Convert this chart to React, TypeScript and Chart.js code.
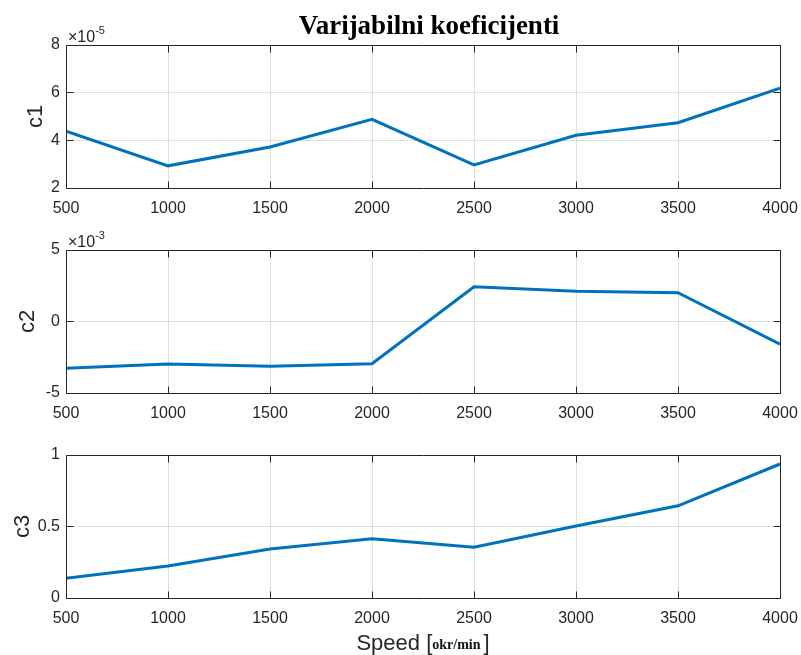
import React, { useEffect, useRef } from "react";
import { Chart, registerables } from "chart.js";

Chart.register(...registerables);

// ---- data ----
const speeds = [500, 1000, 1500, 2000, 2500, 3000, 3500, 4000];
const c1Values = [4.38, 2.93, 3.72, 4.88, 2.97, 4.21, 4.74, 6.19]; // × 10^-5
const c2Values = [-3.27, -2.97, -3.13, -2.95, 2.43, 2.11, 2.01, -1.59]; // × 10^-3
const c3Values = [0.138, 0.224, 0.343, 0.415, 0.355, 0.503, 0.645, 0.937];
const yLabels = ["c1", "c2", "c3"];
const exponents = [-5, -3, null];
const titleText = "Varijabilni koeficijenti";
const xLabelMain = "Speed [";
const xLabelUnit = "okr/min";
const xLabelClose = "]";

// ---- styles ----
const AXIS = "#262626";
const GRID = "rgba(38,38,38,0.15)";
const LINE = "#0072BD";
const SANS = '"Liberation Sans", Arial, Helvetica, sans-serif';
const SERIF = '"Liberation Serif", "Times New Roman", serif';

type Panel = {
  key: string;
  values: number[];
  label: string;
  exponent: number | null;
  yMin: number;
  yMax: number;
  yStep: number;
  top: number;
  height: number;
  padTop: number;
  xAxisHeight: number;
  yTitlePad: number;
  showTitle: boolean;
  showXLabel: boolean;
};

const panels: Panel[] = [
  { key: "c1", values: c1Values, label: yLabels[0], exponent: exponents[0], yMin: 2, yMax: 8, yStep: 2, top: 0, height: 215, padTop: 45, xAxisHeight: 27, yTitlePad: 23, showTitle: true, showXLabel: false },
  { key: "c2", values: c2Values, label: yLabels[1], exponent: exponents[1], yMin: -5, yMax: 5, yStep: 5, top: 215, height: 210, padTop: 35, xAxisHeight: 32, yTitlePad: 15, showTitle: false, showXLabel: false },
  { key: "c3", values: c3Values, label: yLabels[2], exponent: exponents[2], yMin: 0, yMax: 1, yStep: 0.5, top: 425, height: 230, padTop: 30, xAxisHeight: 57, yTitlePad: 10, showTitle: false, showXLabel: true },
];

const align = (p: number) => Math.round(p - 0.5) + 0.5;

function makePlugin(p: Panel) {
  return {
    id: "matlab-" + p.key,
    afterDatasetsDraw(chart: any) {
      const { ctx, chartArea: a, scales } = chart;
      const L = align(a.left), R = align(a.right), T = align(a.top), B = align(a.bottom);
      const TL = 7;
      ctx.save();
      ctx.strokeStyle = AXIS;
      ctx.lineWidth = 1;
      ctx.beginPath();
      ctx.rect(L, T, R - L, B - T);
      for (const t of scales.x.ticks) {
        const x = align(scales.x.getPixelForValue(t.value));
        ctx.moveTo(x, B); ctx.lineTo(x, B - TL);
        ctx.moveTo(x, T); ctx.lineTo(x, T + TL);
      }
      for (const t of scales.y.ticks) {
        const y = align(scales.y.getPixelForValue(t.value));
        ctx.moveTo(L, y); ctx.lineTo(L + TL, y);
        ctx.moveTo(R, y); ctx.lineTo(R - TL, y);
      }
      ctx.stroke();

      ctx.fillStyle = AXIS;
      ctx.textBaseline = "alphabetic";
      if (p.exponent !== null) {
        ctx.textAlign = "left";
        ctx.font = `16px ${SANS}`;
        const base = "\u00D710";
        const x0 = a.left + 2;
        const y0 = a.top - 3;
        ctx.fillText(base, x0, y0);
        const w = ctx.measureText(base).width;
        ctx.font = `11px ${SANS}`;
        ctx.fillText(String(p.exponent), x0 + w, y0 - 8);
      }
      if (p.showTitle) {
        ctx.textAlign = "center";
        ctx.fillStyle = "#000";
        ctx.font = `bold 27px ${SERIF}`;
        ctx.fillText(titleText, (a.left + a.right) / 2 + 6, 34);
      }
      if (p.showXLabel) {
        const f1 = `22px ${SANS}`;
        const f2 = `bold 14px ${SERIF}`;
        ctx.textAlign = "left";
        ctx.font = f1;
        const w1 = ctx.measureText(xLabelMain).width;
        const w3 = ctx.measureText(xLabelClose).width;
        ctx.font = f2;
        const w2 = ctx.measureText(xLabelUnit).width;
        const gap = 3;
        const total = w1 + w2 + gap + w3;
        let x = (a.left + a.right) / 2 - total / 2;
        const y = chart.height - 5;
        ctx.font = f1;
        ctx.fillStyle = AXIS;
        ctx.fillText(xLabelMain, x, y);
        x += w1;
        ctx.font = f2;
        ctx.fillStyle = "#111";
        ctx.fillText(xLabelUnit, x, y - 1);
        x += w2 + gap;
        ctx.font = f1;
        ctx.fillStyle = AXIS;
        ctx.fillText(xLabelClose, x, y);
      }
      ctx.restore();
    },
  };
}

function PanelChart({ p }: { p: Panel }) {
  const ref = useRef<HTMLCanvasElement | null>(null);
  useEffect(() => {
    if (!ref.current) return;
    const chart = new Chart(ref.current, {
      type: "line",
      data: {
        datasets: [
          {
            data: speeds.map((s, i) => ({ x: s, y: p.values[i] })),
            borderColor: LINE,
            borderWidth: 3,
            pointRadius: 0,
            fill: false,
            tension: 0,
          },
        ],
      },
      options: {
        responsive: false,
        animation: false,
        devicePixelRatio: 1,
        layout: { padding: { top: p.padTop, right: 21, bottom: 0, left: 0 } },
        plugins: {
          legend: { display: false },
          tooltip: { enabled: false },
          title: { display: false },
        },
        scales: {
          x: {
            type: "linear",
            min: 500,
            max: 4000,
            ticks: {
              stepSize: 500,
              color: AXIS,
              font: { size: 16, family: SANS },
              padding: 11,
              maxRotation: 0,
              autoSkip: false,
              callback: (v: any) => String(v),
            },
            grid: { color: GRID, drawTicks: false, lineWidth: 1 },
            border: { display: false },
            afterFit: (s: any) => {
              s.height = p.xAxisHeight;
              s.paddingLeft = 0;
              s.paddingRight = 0;
            },
          },
          y: {
            type: "linear",
            min: p.yMin,
            max: p.yMax,
            ticks: {
              stepSize: p.yStep,
              color: AXIS,
              font: { size: 16, family: SANS },
              padding: 6,
              callback: (v: any) => String(v),
            },
            grid: { color: GRID, drawTicks: false, lineWidth: 1 },
            border: { display: false },
            title: {
              display: true,
              text: p.label,
              color: AXIS,
              font: { size: 22, family: SANS },
              padding: { top: p.yTitlePad, bottom: 0 },
            },
            afterFit: (s: any) => {
              s.width = 66;
              s.paddingTop = 0;
              s.paddingBottom = 0;
            },
          },
        },
      },
      plugins: [makePlugin(p)],
    } as any);
    return () => chart.destroy();
  }, [p]);
  return (
    <canvas
      ref={ref}
      width={801}
      height={p.height}
      style={{ position: "absolute", left: 0, top: p.top, width: 801, height: p.height, display: "block" }}
    />
  );
}

export default function App() {
  return (
    <div style={{ position: "absolute", left: 0, top: 0, width: 801, height: 655, background: "#fff", overflow: "hidden" }}>
      {panels.map((p) => (
        <PanelChart key={p.key} p={p} />
      ))}
    </div>
  );
}
